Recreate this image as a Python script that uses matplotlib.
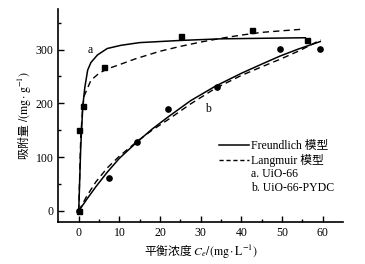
import matplotlib
matplotlib.use('Agg')
import matplotlib.pyplot as plt
from matplotlib.lines import Line2D

plt.rcParams['font.family'] = ['Liberation Serif', 'Noto Sans CJK SC']
plt.rcParams['mathtext.fontset'] = 'stix'

# measured points
ce_a = [0, 0, 1.0, 6.3, 25.1, 42.5, 56.2]
qe_a = [0, 150, 195, 268, 325, 337, 318]
ce_b = [0, 7.5, 14.3, 22.0, 33.9, 49.4, 59.3]
qe_b = [0, 62, 128, 190, 231, 302, 302]

# fitted curves
fx_a = [0, 0.5, 1.0, 1.5, 2.2, 3.0, 4.6, 7.0, 10.4, 15, 25, 35, 45, 55.7]
fy_a = [0, 120, 195, 230, 262, 276, 290, 302, 308, 313, 317, 320, 321, 322]
lx_a = [0, 0.5, 1.0, 1.4, 3.0, 5.0, 7.0, 10, 14, 20, 25, 30, 35, 40, 45, 50, 55.3]
ly_a = [0, 140, 195, 215, 243, 256, 264, 272, 283, 297, 306, 314, 321, 327, 332, 335, 338]
fx_b = [0, 2, 4.2, 7, 10, 14.3, 18, 22, 27.5, 33.6, 40, 45, 49.5, 54, 59.4]
fy_b = [0, 22, 45, 72, 98, 128, 152, 175, 205, 232, 256, 273, 288, 301, 315]
lx_b = [0, 2, 4.2, 7, 10, 14.3, 18, 22, 27.5, 33.6, 40, 45, 49.5, 54, 59.5]
ly_b = [0, 28, 54, 80, 102, 129, 150, 170, 199, 228, 252, 268, 282, 297, 318]

fig = plt.figure(figsize=(3.65, 2.64), dpi=100)
ax = fig.add_axes([0.16, 0.16, 0.78, 0.805])

ax.plot(fx_a, fy_a, 'k-', lw=1.1)
ax.plot(lx_a, ly_a, 'k--', lw=1.0, dashes=(4.5, 3))
ax.plot(fx_b, fy_b, 'k-', lw=1.1)
ax.plot(lx_b, ly_b, 'k--', lw=1.0, dashes=(4.5, 3))
ax.plot(ce_a, qe_a, 'ks', ms=3.6, ls='none')
ax.plot(ce_b, qe_b, 'ko', ms=3.8, ls='none')

ax.text(2.8, 300, 'a', fontsize=8.5, ha='center', va='center')
ax.text(31.8, 190, 'b', fontsize=8.5, ha='center', va='center')

handles = [Line2D([], [], color='k', lw=1.1),
           Line2D([], [], color='k', lw=1.0, ls='--', dashes=(3, 2)),
           Line2D([], [], color='none'),
           Line2D([], [], color='none')]
labels = ['Freundlich 模型', 'Langmuir 模型', 'a. UiO-66', 'b. UiO-66-PYDC']
ax.legend(handles, labels, loc='upper left', bbox_to_anchor=(0.565, 0.385),
          frameon=False, fontsize=8.5, handlelength=2.5, handletextpad=0.15,
          labelspacing=0.15, borderaxespad=0, borderpad=0)

ax.set_xlim(-5, 65)
ax.set_ylim(-20, 375)
ax.set_xticks([0, 10, 20, 30, 40, 50, 60])
ax.set_xticks(range(5, 65, 10), minor=True)
ax.set_yticks([0, 100, 200, 300])
ax.set_yticks([50, 150, 250, 350], minor=True)
ax.tick_params(which='both', direction='in', labelsize=8.5, width=1)
ax.tick_params(which='major', length=4)
ax.tick_params(which='minor', length=2.5)
for s in ['top', 'right']:
    ax.spines[s].set_visible(False)
for s in ['left', 'bottom']:
    ax.spines[s].set_linewidth(1.2)

ax.set_xlabel(r'平衡浓度 $C_e/(\mathrm{mg\cdot L^{-1}})$', fontsize=8.5,
              family='Noto Sans CJK SC', labelpad=3)
ax.set_ylabel(r'吸附量 $/(\mathrm{mg\cdot g^{-1}})$', fontsize=8.5,
              family='Noto Sans CJK SC', labelpad=1)

fig.savefig('out.png', dpi=100)
